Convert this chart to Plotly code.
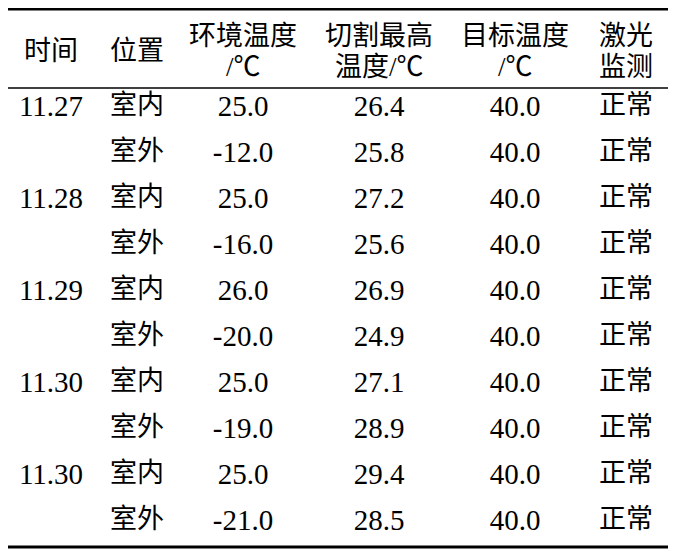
import plotly.graph_objects as go

headers = ['时间', '位置', '环境温度<br>/℃', '切割最高<br>温度/℃', '目标温度<br>/℃', '激光<br>监测']

dates = ['11.27', '', '11.28', '', '11.29', '', '11.30', '', '11.30', '']
places = ['室内', '室外'] * 5
ambient = [25.0, -12.0, 25.0, -16.0, 26.0, -20.0, 25.0, -19.0, 25.0, -21.0]
cut_max = [26.4, 25.8, 27.2, 25.6, 26.9, 24.9, 27.1, 28.9, 29.4, 28.5]
target = [40.0] * 10
laser = ['正常'] * 10

W, H = 678, 560
colw = [86, 86, 126, 146, 126, 96]
fam = 'Liberation Serif, Times New Roman, Noto Sans CJK SC'
num_size, cjk_size = 29, 27

fmt = lambda v: ['%.1f' % x for x in v]

fig = go.Figure(go.Table(
    columnwidth=colw,
    header=dict(values=[], height=0, fill_color='rgba(0,0,0,0)',
                line=dict(width=0, color='rgba(0,0,0,0)')),
    cells=dict(
        values=[dates, places, fmt(ambient), fmt(cut_max), fmt(target), laser],
        align='center',
        font=dict(family=fam, color='#000',
                  size=[num_size, cjk_size, num_size, num_size, num_size, cjk_size]),
        height=46,
        fill_color='rgba(0,0,0,0)',
        line=dict(width=0, color='rgba(0,0,0,0)'),
    ),
    domain=dict(x=[0, sum(colw) / W], y=[0, 1 - 62 / H]),
))

# header drawn as text over the columns
left = 0
for w, h in zip(colw, headers):
    cx = (left + w / 2) / W
    parts = h.split('<br>')
    ys = [43] if len(parts) == 1 else [28, 59]
    for p, yy in zip(parts, ys):
        fig.add_annotation(x=cx, y=1 - yy / H, xref='paper', yref='paper',
                           text=p, showarrow=False, xanchor='center', yanchor='middle',
                           font=dict(family=fam, size=cjk_size, color='#000'))
    left += w

# three-line table rules (page body adds an 8px offset)
for yy, lw in [(1.3, 2.5), (80, 1.5), (539, 3)]:
    fig.add_shape(type='line', xref='paper', yref='paper',
                  x0=0, x1=660 / W, y0=1 - yy / H, y1=1 - yy / H,
                  line=dict(color='#000', width=lw))

fig.update_layout(width=W, height=H, margin=dict(l=0, r=0, t=0, b=0),
                  paper_bgcolor='white', plot_bgcolor='white')

fig.write_html('out.html')
